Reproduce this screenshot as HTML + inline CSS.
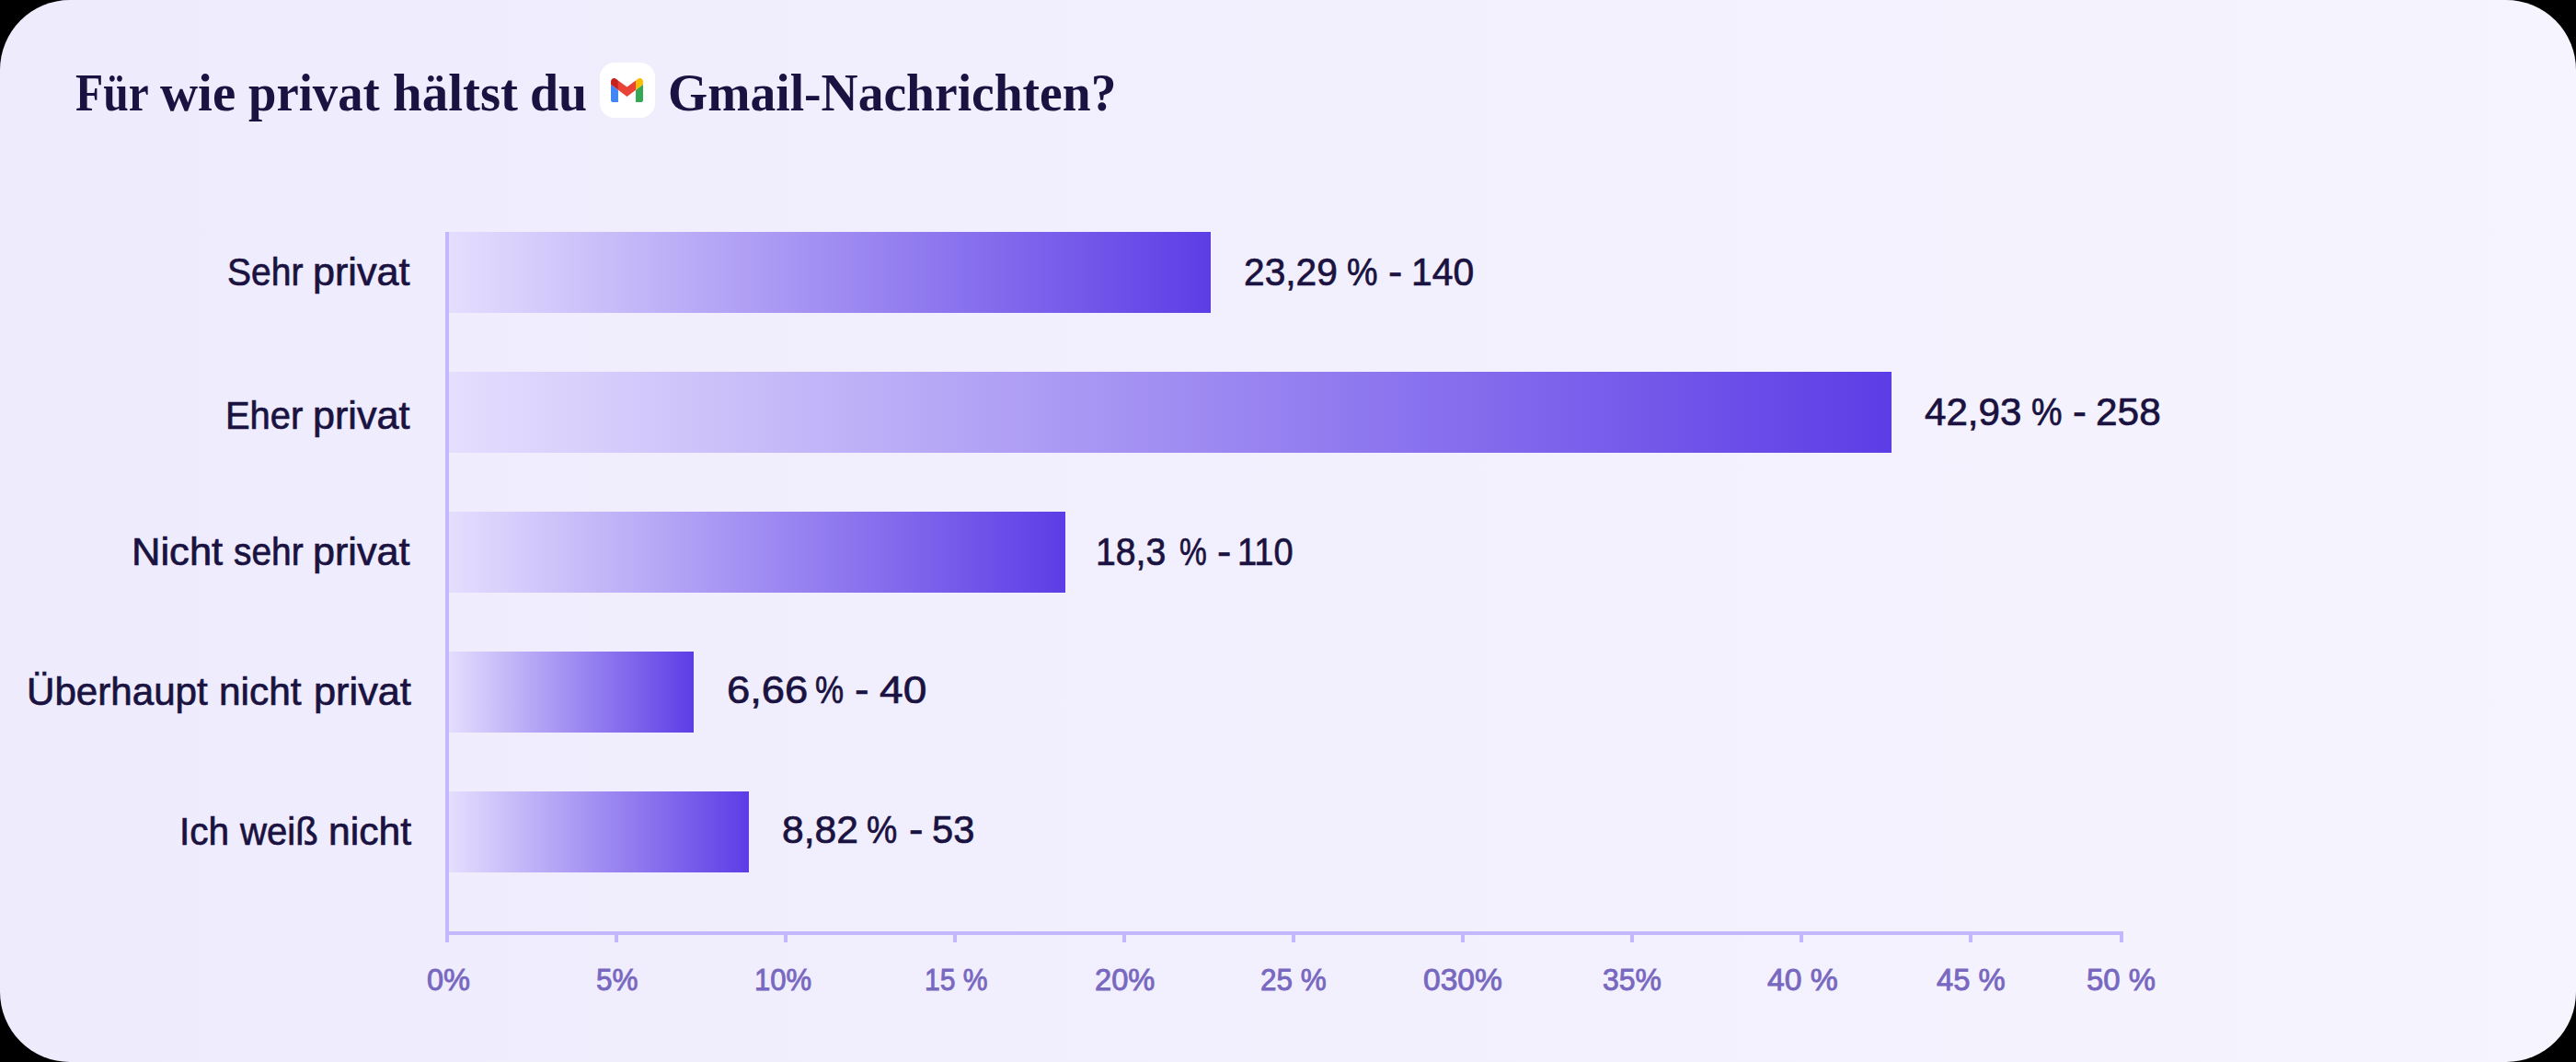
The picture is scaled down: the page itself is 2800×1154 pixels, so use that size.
<!DOCTYPE html>
<html><head><meta charset="utf-8">
<style>
html,body{margin:0;padding:0;background:#000;}
body{width:2800px;height:1154px;overflow:hidden;position:relative;}
#card{position:absolute;left:0;top:0;width:2800px;height:1154px;border-radius:76px;overflow:hidden;
  background:linear-gradient(90deg,#EEEBFD 0%,#F6F4FE 100%);}
.t{position:absolute;white-space:nowrap;line-height:1;transform-origin:0 0;}
.bar{position:absolute;left:488px;height:88px;}
.ax{position:absolute;background:#C3B8FD;}
#icon{position:absolute;left:652px;top:68px;width:60px;height:60px;background:#fff;border-radius:16px;}
#icon svg{position:absolute;left:12.1px;top:16.8px;width:35px;height:26.25px;}
</style></head>
<body>
<div id="card">

<div class="t" style='left:82.12px;top:72.42px;font-size:58px;font-weight:700;color:#1A1240;font-family:"Liberation Serif", serif;transform:scaleX(0.8528);-webkit-text-stroke:0px #1A1240;'>Für</div>
<div class="t" style='left:174.32px;top:72.42px;font-size:58px;font-weight:700;color:#1A1240;font-family:"Liberation Serif", serif;transform:scaleX(0.9811);-webkit-text-stroke:0px #1A1240;'>wie</div>
<div class="t" style='left:270.05px;top:72.42px;font-size:58px;font-weight:700;color:#1A1240;font-family:"Liberation Serif", serif;transform:scaleX(0.9427);-webkit-text-stroke:0px #1A1240;'>privat</div>
<div class="t" style='left:427.02px;top:72.42px;font-size:58px;font-weight:700;color:#1A1240;font-family:"Liberation Serif", serif;transform:scaleX(0.9818);-webkit-text-stroke:0px #1A1240;'>hältst</div>
<div class="t" style='left:576.08px;top:72.42px;font-size:58px;font-weight:700;color:#1A1240;font-family:"Liberation Serif", serif;transform:scaleX(0.9636);-webkit-text-stroke:0px #1A1240;'>du</div>
<div class="t" style='left:726.13px;top:72.42px;font-size:58px;font-weight:700;color:#1A1240;font-family:"Liberation Serif", serif;transform:scaleX(0.9575);-webkit-text-stroke:0px #1A1240;'>Gmail-Nachrichten?</div>
<div class="t" style='left:247.19px;top:275.10px;font-size:42.4px;font-weight:400;color:#1A1240;font-family:"Liberation Sans", sans-serif;transform:scaleX(0.9204);-webkit-text-stroke:0.7px #1A1240;'>Sehr</div>
<div class="t" style='left:340.40px;top:275.10px;font-size:42.4px;font-weight:400;color:#1A1240;font-family:"Liberation Sans", sans-serif;transform:scaleX(1.0179);-webkit-text-stroke:0.7px #1A1240;'>privat</div>
<div class="t" style='left:245.19px;top:431.10px;font-size:42.4px;font-weight:400;color:#1A1240;font-family:"Liberation Sans", sans-serif;transform:scaleX(0.9410);-webkit-text-stroke:0.7px #1A1240;'>Eher</div>
<div class="t" style='left:340.40px;top:431.10px;font-size:42.4px;font-weight:400;color:#1A1240;font-family:"Liberation Sans", sans-serif;transform:scaleX(1.0179);-webkit-text-stroke:0.7px #1A1240;'>privat</div>
<div class="t" style='left:142.89px;top:579.10px;font-size:42.4px;font-weight:400;color:#1A1240;font-family:"Liberation Sans", sans-serif;transform:scaleX(1.0270);-webkit-text-stroke:0.7px #1A1240;'>Nicht</div>
<div class="t" style='left:254.09px;top:579.10px;font-size:42.4px;font-weight:400;color:#1A1240;font-family:"Liberation Sans", sans-serif;transform:scaleX(0.9167);-webkit-text-stroke:0.7px #1A1240;'>sehr</div>
<div class="t" style='left:340.40px;top:579.10px;font-size:42.4px;font-weight:400;color:#1A1240;font-family:"Liberation Sans", sans-serif;transform:scaleX(1.0179);-webkit-text-stroke:0.7px #1A1240;'>privat</div>
<div class="t" style='left:29.01px;top:731.10px;font-size:42.4px;font-weight:400;color:#1A1240;font-family:"Liberation Sans", sans-serif;transform:scaleX(0.9939);-webkit-text-stroke:0.7px #1A1240;'>Überhaupt</div>
<div class="t" style='left:238.00px;top:731.10px;font-size:42.4px;font-weight:400;color:#1A1240;font-family:"Liberation Sans", sans-serif;transform:scaleX(1.0001);-webkit-text-stroke:0.7px #1A1240;'>nicht</div>
<div class="t" style='left:340.96px;top:731.10px;font-size:42.4px;font-weight:400;color:#1A1240;font-family:"Liberation Sans", sans-serif;transform:scaleX(1.0216);-webkit-text-stroke:0.7px #1A1240;'>privat</div>
<div class="t" style='left:195.15px;top:883.10px;font-size:42.4px;font-weight:400;color:#1A1240;font-family:"Liberation Sans", sans-serif;transform:scaleX(0.9568);-webkit-text-stroke:0.7px #1A1240;'>Ich</div>
<div class="t" style='left:260.95px;top:883.10px;font-size:42.4px;font-weight:400;color:#1A1240;font-family:"Liberation Sans", sans-serif;transform:scaleX(0.9473);-webkit-text-stroke:0.7px #1A1240;'>weiß</div>
<div class="t" style='left:356.99px;top:883.10px;font-size:42.4px;font-weight:400;color:#1A1240;font-family:"Liberation Sans", sans-serif;transform:scaleX(1.0047);-webkit-text-stroke:0.7px #1A1240;'>nicht</div>
<div class="t" style='left:1352.03px;top:274.61px;font-size:41.8px;font-weight:400;color:#1A1240;font-family:"Liberation Sans", sans-serif;transform:scaleX(0.9736);-webkit-text-stroke:0.7px #1A1240;'>23,29</div>
<div class="t" style='left:1464.18px;top:274.61px;font-size:41.8px;font-weight:400;color:#1A1240;font-family:"Liberation Sans", sans-serif;transform:scaleX(0.9009);-webkit-text-stroke:0.7px #1A1240;'>%</div>
<div class="t" style='left:1508.91px;top:274.61px;font-size:41.8px;font-weight:400;color:#1A1240;font-family:"Liberation Sans", sans-serif;transform:scaleX(1.0909);-webkit-text-stroke:0.7px #1A1240;'>-</div>
<div class="t" style='left:1534.07px;top:274.61px;font-size:41.8px;font-weight:400;color:#1A1240;font-family:"Liberation Sans", sans-serif;transform:scaleX(0.9788);-webkit-text-stroke:0.7px #1A1240;'>140</div>
<div class="t" style='left:2091.98px;top:426.61px;font-size:41.8px;font-weight:400;color:#1A1240;font-family:"Liberation Sans", sans-serif;transform:scaleX(1.0079);-webkit-text-stroke:0.7px #1A1240;'>42,93</div>
<div class="t" style='left:2208.15px;top:426.61px;font-size:41.8px;font-weight:400;color:#1A1240;font-family:"Liberation Sans", sans-serif;transform:scaleX(0.9009);-webkit-text-stroke:0.7px #1A1240;'>%</div>
<div class="t" style='left:2252.86px;top:426.61px;font-size:41.8px;font-weight:400;color:#1A1240;font-family:"Liberation Sans", sans-serif;transform:scaleX(1.0705);-webkit-text-stroke:0.7px #1A1240;'>-</div>
<div class="t" style='left:2277.98px;top:426.61px;font-size:41.8px;font-weight:400;color:#1A1240;font-family:"Liberation Sans", sans-serif;transform:scaleX(1.0137);-webkit-text-stroke:0.7px #1A1240;'>258</div>
<div class="t" style='left:1191.15px;top:578.61px;font-size:41.8px;font-weight:400;color:#1A1240;font-family:"Liberation Sans", sans-serif;transform:scaleX(0.9371);-webkit-text-stroke:0.7px #1A1240;'>18,3</div>
<div class="t" style='left:1282.20px;top:578.61px;font-size:41.8px;font-weight:400;color:#1A1240;font-family:"Liberation Sans", sans-serif;transform:scaleX(0.7996);-webkit-text-stroke:0.7px #1A1240;'>%</div>
<div class="t" style='left:1322.50px;top:578.61px;font-size:41.8px;font-weight:400;color:#1A1240;font-family:"Liberation Sans", sans-serif;transform:scaleX(1.0954);-webkit-text-stroke:0.7px #1A1240;'>-</div>
<div class="t" style='left:1345.27px;top:578.61px;font-size:41.8px;font-weight:400;color:#1A1240;font-family:"Liberation Sans", sans-serif;transform:scaleX(0.9095);-webkit-text-stroke:0.7px #1A1240;'>110</div>
<div class="t" style='left:789.87px;top:728.61px;font-size:41.8px;font-weight:400;color:#1A1240;font-family:"Liberation Sans", sans-serif;transform:scaleX(1.0863);-webkit-text-stroke:0.7px #1A1240;'>6,66</div>
<div class="t" style='left:886.25px;top:728.61px;font-size:41.8px;font-weight:400;color:#1A1240;font-family:"Liberation Sans", sans-serif;transform:scaleX(0.8368);-webkit-text-stroke:0.7px #1A1240;'>%</div>
<div class="t" style='left:928.84px;top:728.61px;font-size:41.8px;font-weight:400;color:#1A1240;font-family:"Liberation Sans", sans-serif;transform:scaleX(1.1160);-webkit-text-stroke:0.7px #1A1240;'>-</div>
<div class="t" style='left:955.94px;top:728.61px;font-size:41.8px;font-weight:400;color:#1A1240;font-family:"Liberation Sans", sans-serif;transform:scaleX(1.1027);-webkit-text-stroke:0.7px #1A1240;'>40</div>
<div class="t" style='left:849.96px;top:880.61px;font-size:41.8px;font-weight:400;color:#1A1240;font-family:"Liberation Sans", sans-serif;transform:scaleX(1.0194);-webkit-text-stroke:0.7px #1A1240;'>8,82</div>
<div class="t" style='left:942.11px;top:880.61px;font-size:41.8px;font-weight:400;color:#1A1240;font-family:"Liberation Sans", sans-serif;transform:scaleX(0.8950);-webkit-text-stroke:0.7px #1A1240;'>%</div>
<div class="t" style='left:987.87px;top:880.61px;font-size:41.8px;font-weight:400;color:#1A1240;font-family:"Liberation Sans", sans-serif;transform:scaleX(1.1115);-webkit-text-stroke:0.7px #1A1240;'>-</div>
<div class="t" style='left:1013.00px;top:880.61px;font-size:41.8px;font-weight:400;color:#1A1240;font-family:"Liberation Sans", sans-serif;transform:scaleX(0.9959);-webkit-text-stroke:0.7px #1A1240;'>53</div>
<div class="t" style='left:464.02px;top:1047.55px;font-size:33.6px;font-weight:400;color:#7868C0;font-family:"Liberation Sans", sans-serif;transform:scaleX(0.9699);-webkit-text-stroke:0.9px #7868C0;'>0%</div>
<div class="t" style='left:648.06px;top:1047.55px;font-size:33.6px;font-weight:400;color:#7868C0;font-family:"Liberation Sans", sans-serif;transform:scaleX(0.9367);-webkit-text-stroke:0.9px #7868C0;'>5%</div>
<div class="t" style='left:820.16px;top:1047.55px;font-size:33.6px;font-weight:400;color:#7868C0;font-family:"Liberation Sans", sans-serif;transform:scaleX(0.9254);-webkit-text-stroke:0.9px #7868C0;'>10%</div>
<div class="t" style='left:1005.21px;top:1047.55px;font-size:33.6px;font-weight:400;color:#7868C0;font-family:"Liberation Sans", sans-serif;transform:scaleX(0.8947);-webkit-text-stroke:0.9px #7868C0;'>15 %</div>
<div class="t" style='left:1190.03px;top:1047.55px;font-size:33.6px;font-weight:400;color:#7868C0;font-family:"Liberation Sans", sans-serif;transform:scaleX(0.9720);-webkit-text-stroke:0.9px #7868C0;'>20%</div>
<div class="t" style='left:1370.06px;top:1047.55px;font-size:33.6px;font-weight:400;color:#7868C0;font-family:"Liberation Sans", sans-serif;transform:scaleX(0.9366);-webkit-text-stroke:0.9px #7868C0;'>25 %</div>
<div class="t" style='left:1547.00px;top:1047.55px;font-size:33.6px;font-weight:400;color:#7868C0;font-family:"Liberation Sans", sans-serif;transform:scaleX(1.0006);-webkit-text-stroke:0.9px #7868C0;'>030%</div>
<div class="t" style='left:1742.06px;top:1047.55px;font-size:33.6px;font-weight:400;color:#7868C0;font-family:"Liberation Sans", sans-serif;transform:scaleX(0.9502);-webkit-text-stroke:0.9px #7868C0;'>35%</div>
<div class="t" style='left:1921.00px;top:1047.55px;font-size:33.6px;font-weight:400;color:#7868C0;font-family:"Liberation Sans", sans-serif;transform:scaleX(1.0031);-webkit-text-stroke:0.9px #7868C0;'>40 %</div>
<div class="t" style='left:2105.00px;top:1047.55px;font-size:33.6px;font-weight:400;color:#7868C0;font-family:"Liberation Sans", sans-serif;transform:scaleX(0.9758);-webkit-text-stroke:0.9px #7868C0;'>45 %</div>
<div class="t" style='left:2268.01px;top:1047.55px;font-size:33.6px;font-weight:400;color:#7868C0;font-family:"Liberation Sans", sans-serif;transform:scaleX(0.9781);-webkit-text-stroke:0.9px #7868C0;'>50 %</div>
<div id="icon"><svg viewBox="52 42 88 66"><path fill="#4285f4" d="M58 108h14V74L52 59v43c0 3.32 2.69 6 6 6"/><path fill="#34a853" d="M120 108h14c3.32 0 6-2.69 6-6V59l-20 15"/><path fill="#fbbc04" d="M120 48v26l20-15v-8c0-7.42-8.47-11.65-14.4-7.2"/><path fill="#ea4335" d="M72 74V48l24 18 24-18v26L96 92"/><path fill="#c5221f" d="M52 51v8l20 15V48l-5.6-4.2c-5.94-4.45-14.4-.22-14.4 7.2"/></svg></div>
<div class="bar" style="top:252px;width:828px;background:linear-gradient(90deg,#E5DEFE,#5C3DE6);"></div>
<div class="bar" style="top:404px;width:1568px;background:linear-gradient(90deg,#E5DEFE,#5C3DE6);"></div>
<div class="bar" style="top:556px;width:670px;background:linear-gradient(90deg,#E5DEFE,#5C3DE6);"></div>
<div class="bar" style="top:708px;width:266px;background:linear-gradient(90deg,#E5DEFE,#5C3DE6);"></div>
<div class="bar" style="top:860px;width:326px;background:linear-gradient(90deg,#E5DEFE,#5C3DE6);"></div>
<div class="ax" style="left:484px;top:252px;width:4px;height:772px;"></div>
<div class="ax" style="left:484px;top:1012px;width:1824px;height:4px;"></div>
<div class="ax" style="left:668px;top:1012px;width:4px;height:12px;"></div>
<div class="ax" style="left:852px;top:1012px;width:4px;height:12px;"></div>
<div class="ax" style="left:1036px;top:1012px;width:4px;height:12px;"></div>
<div class="ax" style="left:1220px;top:1012px;width:4px;height:12px;"></div>
<div class="ax" style="left:1404px;top:1012px;width:4px;height:12px;"></div>
<div class="ax" style="left:1588px;top:1012px;width:4px;height:12px;"></div>
<div class="ax" style="left:1772px;top:1012px;width:4px;height:12px;"></div>
<div class="ax" style="left:1956px;top:1012px;width:4px;height:12px;"></div>
<div class="ax" style="left:2140px;top:1012px;width:4px;height:12px;"></div>
<div class="ax" style="left:2304px;top:1012px;width:4px;height:12px;"></div>
</div></body></html>
